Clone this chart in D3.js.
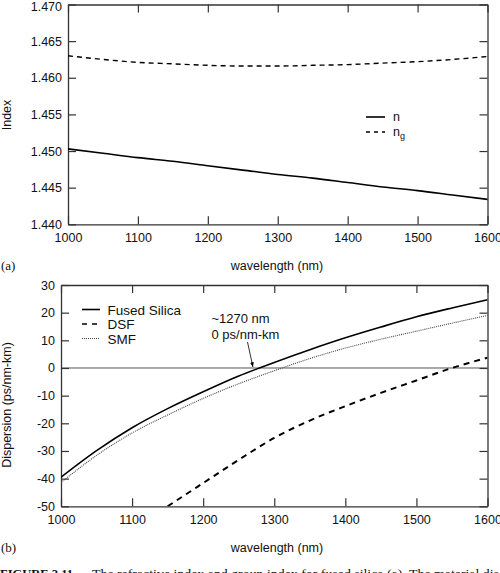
<!DOCTYPE html>
<html>
<head>
<meta charset="utf-8">
<script src="https://cdn.jsdelivr.net/npm/d3@7"></script>
<style>
  html, body { margin: 0; padding: 0; background: #fff; }
  svg { display: block; }
  text { font-family: "Liberation Sans", Arial, sans-serif; fill: #111; }
  .serif { font-family: "Liberation Serif", "Times New Roman", serif; }
</style>
</head>
<body>
<svg id="chart" width="500" height="573"></svg>
<script>
// ---------- Data ----------
const wavelengths = [1000, 1050, 1100, 1150, 1200, 1250, 1300, 1350, 1400, 1450, 1500, 1550, 1600];
const indexN      = [1.4503, 1.4497, 1.4491, 1.4486, 1.4480, 1.4474, 1.4468, 1.4463, 1.4457, 1.4451, 1.4446, 1.4440, 1.4434];
const indexNg     = [1.4630, 1.4625, 1.4621, 1.4619, 1.4617, 1.4616, 1.4616, 1.4617, 1.4618, 1.4620, 1.4622, 1.4625, 1.4629];
const dispSilica  = [-39.5, -29.9, -21.6, -14.7, -8.6, -2.9, 2.0, 6.6, 10.9, 14.8, 18.5, 21.7, 24.7];
const dispSMF     = [-41.4, -31.6, -23.5, -17.0, -11.0, -5.7, -1.0, 3.4, 7.2, 10.4, 13.3, 16.2, 19.0];
const dsfWavelengths = [1150, 1200, 1250, 1300, 1350, 1400, 1450, 1500, 1550, 1600];
const dispDSF     = [-50.0, -41.6, -33.2, -25.3, -19.0, -13.8, -9.0, -4.5, 0.0, 3.7];

const xTicks = [1000, 1100, 1200, 1300, 1400, 1500, 1600];
const indexTicks = [1.440, 1.445, 1.450, 1.455, 1.460, 1.465, 1.470];
const dispTicks = [-50, -40, -30, -20, -10, 0, 10, 20, 30];

const seriesTop = [
  { name: "n", values: indexN, style: "solid" },
  { name: "ng", values: indexNg, style: "dash" }
];
const seriesBottom = [
  { name: "Fused Silica", x: wavelengths, values: dispSilica, style: "solid" },
  { name: "DSF", x: dsfWavelengths, values: dispDSF, style: "dash" },
  { name: "SMF", x: wavelengths, values: dispSMF, style: "dot" }
];

// ---------- Drawing ----------
const svg = d3.select("#chart");
const axisColor = "#333";
const loc = d3.formatLocale({ decimal: ".", thousands: ",", grouping: [3], currency: ["", ""], minus: "-" });

function frame(g, x, y, xt, yt, yfmt) {
  const [x0, x1] = x.range();
  const [y0, y1] = y.range(); // y0 bottom, y1 top
  const T = 8;
  const bottom = d3.axisBottom(x).tickValues(xt).tickSizeInner(-T).tickSizeOuter(0).tickPadding(9).tickFormat(loc.format("d"));
  const top = d3.axisTop(x).tickValues(xt).tickSizeInner(-T).tickSizeOuter(0).tickFormat("");
  const left = d3.axisLeft(y).tickValues(yt).tickSizeInner(-T).tickSizeOuter(0).tickPadding(6).tickFormat(yfmt);
  const right = d3.axisRight(y).tickValues(yt).tickSizeInner(-T).tickSizeOuter(0).tickFormat("");
  const gb = g.append("g").attr("transform", `translate(0,${y0})`).call(bottom);
  const gt = g.append("g").attr("transform", `translate(0,${y1})`).call(top);
  const gl = g.append("g").attr("transform", `translate(${x0},0)`).call(left);
  const gr = g.append("g").attr("transform", `translate(${x1},0)`).call(right);
  [gb, gt, gl, gr].forEach(a => {
    a.select(".domain").attr("stroke", axisColor).attr("stroke-width", 1.3);
    a.selectAll(".tick line").attr("stroke", axisColor).attr("stroke-width", 1.2);
    a.selectAll(".tick text").attr("font-size", 12.5).attr("fill", "#111")
      .attr("font-family", "Liberation Sans, Arial, sans-serif");
  });
  return { gl, gb };
}

function styleLine(p, style) {
  if (style === "solid") p.attr("stroke", "#000").attr("stroke-width", 1.6);
  else if (style === "dash") p.attr("stroke", "#000").attr("stroke-width", 1.4).attr("stroke-dasharray", "5,4");
  else p.attr("stroke", "#444").attr("stroke-width", 1.1).attr("stroke-dasharray", "1,1");
}

// ----- Panel (a) -----
{
  const x = d3.scaleLinear().domain([1000, 1600]).range([68, 487.5]);
  const y = d3.scaleLinear().domain([1.440, 1.470]).range([224.3, 4.5]);
  const g = svg.append("g");
  const ax = frame(g, x, y, xTicks, indexTicks, loc.format(".3f"));
  ax.gl.selectAll(".tick text").filter(d => d === 1.470).attr("y", 1.5);

  const line = d3.line().curve(d3.curveMonotoneX).x((d, i) => x(wavelengths[i])).y(d => y(d));
  seriesTop.forEach(s => {
    const p = g.append("path").datum(s.values).attr("fill", "none").attr("d", line);
    styleLine(p, s.style);
  });

  // legend
  const lg = g.append("g");
  const legY = [117, 132];
  seriesTop.forEach((s, i) => {
    const p = lg.append("line").attr("x1", 366).attr("x2", 385).attr("y1", legY[i]).attr("y2", legY[i]).attr("fill", "none");
    styleLine(p, s.style);
    if (s.style === "dash") p.attr("stroke-dasharray", "4,4");
  });
  lg.append("text").attr("x", 393).attr("y", legY[0] + 4).attr("font-size", 12.5).text("n");
  const t2 = lg.append("text").attr("x", 393).attr("y", legY[1] + 4).attr("font-size", 12.5);
  t2.append("tspan").text("n");
  t2.append("tspan").attr("dy", 3).attr("font-size", 9).text("g");

  // axis titles
  g.append("text").attr("x", 277).attr("y", 270).attr("text-anchor", "middle").attr("font-size", 12.5).text("wavelength (nm)");
  g.append("text").attr("transform", "translate(11,115) rotate(-90)").attr("text-anchor", "middle").attr("font-size", 12.5).text("Index");
  g.append("text").attr("class", "serif").attr("x", 1).attr("y", 270).attr("font-size", 13).text("(a)");
}

// ----- Panel (b) -----
{
  const x = d3.scaleLinear().domain([1000, 1600]).range([61, 487.5]);
  const y = d3.scaleLinear().domain([-50, 30]).range([506.3, 285]);
  const g = svg.append("g");

  g.append("defs").append("clipPath").attr("id", "clipB")
    .append("rect").attr("x", 61).attr("y", 285).attr("width", 426.5).attr("height", 221.3);

  // zero line
  g.append("line").attr("x1", x(1000)).attr("x2", x(1600)).attr("y1", y(0)).attr("y2", y(0))
    .attr("stroke", "#555").attr("stroke-width", 1);

  frame(g, x, y, xTicks, dispTicks, loc.format("d"));

  const plot = g.append("g").attr("clip-path", "url(#clipB)");
  seriesBottom.forEach(s => {
    const line = d3.line().curve(d3.curveMonotoneX).x((d, i) => x(s.x[i])).y(d => y(d));
    const p = plot.append("path").datum(s.values).attr("fill", "none").attr("d", line);
    styleLine(p, s.style);
    if (s.style === "dash") p.attr("stroke-width", 2).attr("stroke-dasharray", "6,5");
  });

  // legend
  const legY = [309.5, 324, 338.5];
  seriesBottom.forEach((s, i) => {
    const p = g.append("line").attr("x1", 82).attr("x2", 100).attr("y1", legY[i]).attr("y2", legY[i]);
    styleLine(p, s.style);
    if (s.style === "dash") p.attr("stroke-width", 1.4).attr("stroke-dasharray", "5,5");
    g.append("text").attr("x", 107.5).attr("y", legY[i] + 5).attr("font-size", 13.5).text(s.name);
  });

  // annotation
  g.append("text").attr("x", 211.5).attr("y", 323).attr("font-size", 13).text("~1270 nm");
  g.append("text").attr("x", 211.5).attr("y", 339).attr("font-size", 13).text("0 ps/nm-km");
  g.append("defs").append("marker").attr("id", "arr").attr("viewBox", "0 0 10 10")
    .attr("refX", 10).attr("refY", 5).attr("markerWidth", 6).attr("markerHeight", 6).attr("orient", "auto")
    .append("path").attr("d", "M0,1 L10,5 L0,9 Z").attr("fill", "#000");
  g.append("line").attr("x1", 247.5).attr("y1", 342).attr("x2", x(1270)).attr("y2", y(0) - 1)
    .attr("stroke", "#000").attr("stroke-width", 0.8).attr("marker-end", "url(#arr)");

  // axis titles
  g.append("text").attr("x", 277).attr("y", 552).attr("text-anchor", "middle").attr("font-size", 12.5).text("wavelength (nm)");
  g.append("text").attr("transform", "translate(11,405) rotate(-90)").attr("text-anchor", "middle").attr("font-size", 12.5).text("Dispersion (ps/nm-km)");
  g.append("text").attr("class", "serif").attr("x", 1).attr("y", 552).attr("font-size", 13).text("(b)");
}

// caption (cut off at the bottom edge, as in the reference)
{
  svg.append("text").attr("class", "serif").attr("x", 0).attr("y", 578).attr("font-size", 13.5)
    .attr("font-weight", "bold").attr("textLength", 73).attr("lengthAdjust", "spacingAndGlyphs")
    .text("FIGURE 2.11");
  svg.append("text").attr("class", "serif").attr("x", 92).attr("y", 578).attr("font-size", 13.5)
    .attr("textLength", 407).attr("lengthAdjust", "spacingAndGlyphs")
    .text("The refractive index and group index for fused silica (a). The material dis");
}
</script>
</body>
</html>
